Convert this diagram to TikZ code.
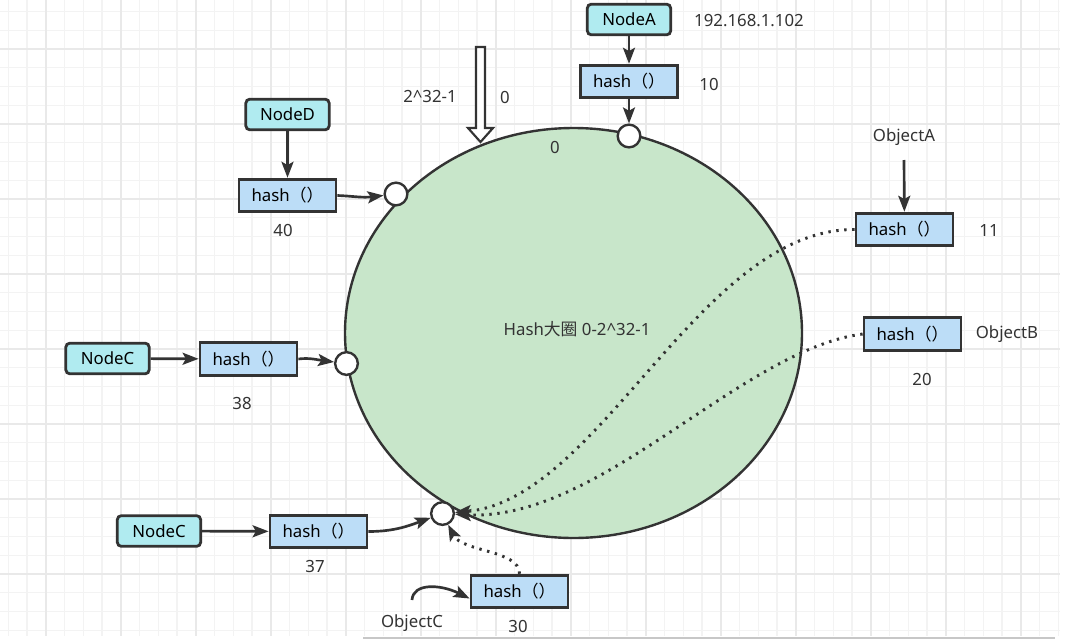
\documentclass[tikz,border=0pt]{standalone}
\usepackage{fontspec}
\setmainfont{Noto Sans}
\newfontfamily\cjk{Noto Sans CJK SC}
\usetikzlibrary{arrows.meta,shapes.geometric,calc}
\definecolor{ink}{HTML}{333333}
\definecolor{hashfill}{HTML}{BCDDF7}
\definecolor{nodefill}{HTML}{B0EBF0}
\definecolor{ringfill}{HTML}{C8E6CA}
\definecolor{gridminor}{HTML}{F3F3F3}
\definecolor{gridmajor}{HTML}{E9E9E9}
\tikzset{
  hashbox/.style={draw=ink, fill=hashfill, line width=2.1pt, minimum width=72.75pt, minimum height=24.5pt, inner sep=0pt},
  nodebox/.style={draw=ink, fill=nodefill, line width=2.1pt, rounded corners=3pt, minimum width=62.5pt, minimum height=23pt, inner sep=0pt},
  port/.style={circle, draw=ink, fill=white, line width=1.8pt, minimum size=17pt, inner sep=0pt},
  ringshape/.style={ellipse, draw=ink, fill=ringfill, line width=1.8pt, minimum width=342.75pt, minimum height=307.5pt, inner sep=0pt},
  conn/.style={draw=ink, line width=2pt, -{Stealth[length=12pt,width=9pt,inset=2.5pt]}},
  dotconn/.style={draw=ink, line width=2.2pt, dash pattern=on 1.8pt off 4.2pt, -{Stealth[length=12pt,width=9pt,inset=2.5pt]}},
  lbl/.style={inner sep=0pt, text=ink}
}
\newcommand{\hf}{hash{\cjk （）}}
\begin{document}
\begin{tikzpicture}[x=0.75pt, y=-0.75pt, font=\fontsize{12.6}{15}\selectfont]
\useasboundingbox (0,0) rectangle (1067,639);
\fill[white] (0,0) rectangle (1067,639);
% grid
\foreach \k in {0,...,56} \draw[gridminor, line width=0.8pt] ({8.25+18.75*\k},0) -- ({8.25+18.75*\k},636);
\foreach \k in {0,...,33} \draw[gridminor, line width=0.8pt] (0,{11.5+18.75*\k}) -- (1060,{11.5+18.75*\k});
\foreach \k in {0,...,13} \draw[gridmajor, line width=0.8pt] ({46+75*\k},0) -- ({46+75*\k},636);
\foreach \k in {0,...,7} \draw[gridmajor, line width=0.8pt] (0,{49+75*\k}) -- (1060,{49+75*\k});
\fill[black!22] (363,636.5) rectangle (1055,639);

% ring
\node[ringshape] (ring) at (573.5,333) {};
\node[lbl] (ringlabel) at (577,329) {Hash{\cjk 大圈} 0-2\^{}32-1};

% hollow arrow
\draw[draw=ink, fill=white, line width=1.6pt, line join=miter] (476,47) -- (485,47) -- (485,128) -- (493,128) -- (480.5,142) -- (468,128) -- (476,128) -- cycle;
\node[lbl] (t232) at (430,97) {2\^{}32-1};
\node[lbl] (tzeroA) at (505,97) {0};
\node[lbl] (tzeroB) at (555,147) {0};

% ports
\node[port] (pA) at (629,136) {};
\node[port] (pD) at (396,194) {};
\node[port] (pC) at (346.5,363.5) {};
\node[port] (pB) at (442.5,513.5) {};

% NodeA
\node[nodebox] (nA) at (629,19.5) {NodeA};
\node[hashbox] (hA) at (629,81.5) {\hf};
\node[lbl] (ipA) at (749,21) {192.168.1.102};
\node[lbl] (vA) at (709,84) {10};
\draw[conn] (nA) -- (hA);
\draw[conn] (hA) -- (pA);

% NodeD
\node[nodebox] (nD) at (287.5,114.5) {NodeD};
\node[hashbox] (hD) at (287.5,195.5) {\hf};
\node[lbl] (vD) at (283,230) {40};
\draw[conn] (nD) -- (hD);
\draw[conn] (hD.east) .. controls (352,196) and (362,198) .. (pD);

% NodeC (38)
\node[nodebox] (nC1) at (107.5,358.5) {NodeC};
\node[hashbox] (hC1) at (248.5,359) {\hf};
\node[lbl] (vC1) at (242,403) {38};
\draw[conn] (nC1) -- (hC1);
\draw[conn] (hC1.east) .. controls (310,357.5) and (318,360) .. (pC);

% NodeC (37)
\node[nodebox] (nC2) at (159,531) {NodeC};
\node[hashbox] (hC2) at (318.5,531.5) {\hf};
\node[lbl] (vC2) at (315,566) {37};
\draw[conn] (nC2) -- (hC2);
\draw[conn] (hC2.east) to[out=0, in=200] (pB);

% ObjectA
\node[lbl] (oA) at (904,137) {ObjectA};
\coordinate (oAtail) at (904,160);
\node[hashbox] (hOA) at (904.5,229.5) {\hf};
\node[lbl] (vOA) at (989,230) {11};
\draw[conn] (oAtail) -- (hOA);
\draw[dotconn] (hOA.west) .. controls (700,229) and (600,500) .. (pB);

% ObjectB
\node[hashbox] (hOB) at (912.5,334) {\hf};
\node[lbl] (oB) at (1007,334) {ObjectB};
\node[lbl] (vOB) at (922,379) {20};
\draw[dotconn] (hOB.west) .. controls (740,350) and (600,522) .. (pB);

% ObjectC
\node[hashbox] (hOC) at (519.5,591.5) {\hf};
\node[lbl] (oC) at (412,623) {ObjectC};
\node[lbl] (vOC) at (518,626) {30};
\coordinate (oCtail) at (412,600);
\draw[conn] (oCtail) .. controls (413,583) and (440,584) .. ($(hOC.west)+(0,7)$);
\draw[dotconn] (hOC.north) .. controls (520,550) and (462,552) .. (pB);
\end{tikzpicture}
\end{document}
